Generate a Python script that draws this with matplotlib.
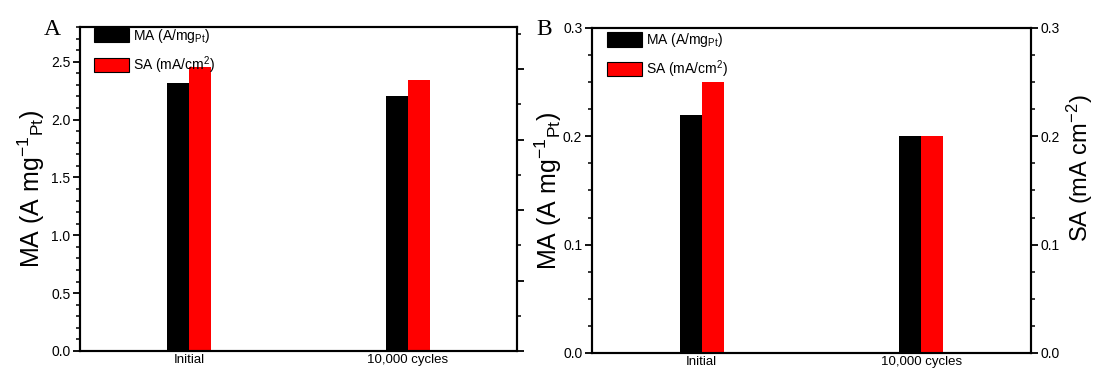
import matplotlib
matplotlib.use("Agg")
import matplotlib.pyplot as plt
import numpy as np
from matplotlib.ticker import MultipleLocator, NullFormatter, FormatStrFormatter
from matplotlib.patches import Patch

plt.rcParams['font.family'] = ['Liberation Sans', 'DejaVu Sans']
plt.rcParams['mathtext.fontset'] = 'custom'
plt.rcParams['mathtext.rm'] = 'Liberation Sans'
plt.rcParams['mathtext.it'] = 'Liberation Sans:italic'
plt.rcParams['mathtext.bf'] = 'Liberation Sans:bold'

categories = ["Initial", "10,000 cycles"]
ma_A = [2.32, 2.20]
sa_A = [2.45, 2.34]
ma_B = [0.22, 0.20]
sa_B = [0.25, 0.20]

legend_labels = [r'MA (A/mg$_{\mathrm{Pt}}$)', r'SA (mA/cm$^{2}$)']
ylabel_ma = r'MA (A mg$^{-1}$$_{\mathrm{Pt}}$)'
ylabel_sa = r'SA (mA cm$^{-2}$)'

W, H = 1093, 370
fig = plt.figure(figsize=(W / 100, H / 100), dpi=100)

def frac(l, r, t, b):
    return [l / W, 1 - b / H, (r - l) / W, (b - t) / H]

axA = fig.add_axes(frac(80, 517, 27, 351))
axB = fig.add_axes(frac(592, 1031, 28, 353))

x = np.arange(len(categories))
bw = 0.1
lw_spine = 1.5

def style(ax):
    for s in ax.spines.values():
        s.set_linewidth(lw_spine)
    ax.set_xlim(-0.5, 1.5)
    ax.set_xticks(x)
    ax.set_xticklabels(categories, fontsize=9.5)
    ax.tick_params(axis='x', length=0, pad=2.5)
    ax.tick_params(axis='y', which='major', direction='out', length=5, width=1.3, labelsize=10, pad=2)
    ax.tick_params(axis='y', which='minor', direction='out', length=3, width=1.1)

# Panel A
axA.bar(x - bw / 2, ma_A, bw, color='black', edgecolor='black', linewidth=0)
axA.bar(x + bw / 2, sa_A, bw, color='red', edgecolor='red', linewidth=0)
style(axA)
axA.set_ylim(0, 2.8)
axA.yaxis.set_major_locator(MultipleLocator(0.5))
axA.yaxis.set_minor_locator(MultipleLocator(0.1))
axA.yaxis.set_major_formatter(FormatStrFormatter('%.1f'))
axA.set_ylabel(ylabel_ma, fontsize=18)
axA.yaxis.set_label_coords(-0.075, 0.5)
tA = axA.twinx()
tA.set_ylim(0, 0.23)
tA.yaxis.set_major_locator(MultipleLocator(0.05))
tA.yaxis.set_minor_locator(MultipleLocator(0.025))
tA.yaxis.set_major_formatter(NullFormatter())
tA.tick_params(axis='y', which='major', direction='out', length=5, width=1.3)
tA.tick_params(axis='y', which='minor', direction='out', length=3, width=1.1)
for s in tA.spines.values():
    s.set_linewidth(lw_spine)

# Panel B
axB.bar(x - bw / 2, ma_B, bw, color='black', edgecolor='black', linewidth=0)
tB = axB.twinx()
tB.bar(x + bw / 2, sa_B, bw, color='red', edgecolor='red', linewidth=0)
style(axB)
for ax in (axB, tB):
    ax.set_ylim(0, 0.3)
    ax.yaxis.set_major_locator(MultipleLocator(0.1))
    ax.yaxis.set_minor_locator(MultipleLocator(0.025))
    ax.yaxis.set_major_formatter(FormatStrFormatter('%.1f'))
tB.tick_params(axis='y', which='major', direction='out', length=5, width=1.3, labelsize=10, pad=2)
tB.tick_params(axis='y', which='minor', direction='out', length=3, width=1.1)
for s in tB.spines.values():
    s.set_linewidth(lw_spine)
axB.set_ylabel(ylabel_ma, fontsize=18)
axB.yaxis.set_label_coords(-0.064, 0.5)
tB.set_ylabel(ylabel_sa, fontsize=17)
tB.yaxis.set_label_coords(1.077, 0.57)

handles = [Patch(facecolor='black', edgecolor='black', linewidth=0.8),
           Patch(facecolor='red', edgecolor='black', linewidth=0.8)]
for ax, bb in ((tA, (14 / 437, 1.0)), (tB, (15 / 439, 0.99))):
    ax.legend(handles, legend_labels, loc='upper left', bbox_to_anchor=bb,
              frameon=False, fontsize=10, handlelength=2.5, handleheight=1.2,
              labelspacing=0.65, borderpad=0, borderaxespad=0, handletextpad=0.3)

fig.text(44 / W, 1 - 35 / H, 'A', fontsize=17, family='Liberation Serif')
fig.text(536 / W, 1 - 35 / H, 'B', fontsize=17, family='Liberation Serif')

fig.savefig('out.png', dpi=100)
